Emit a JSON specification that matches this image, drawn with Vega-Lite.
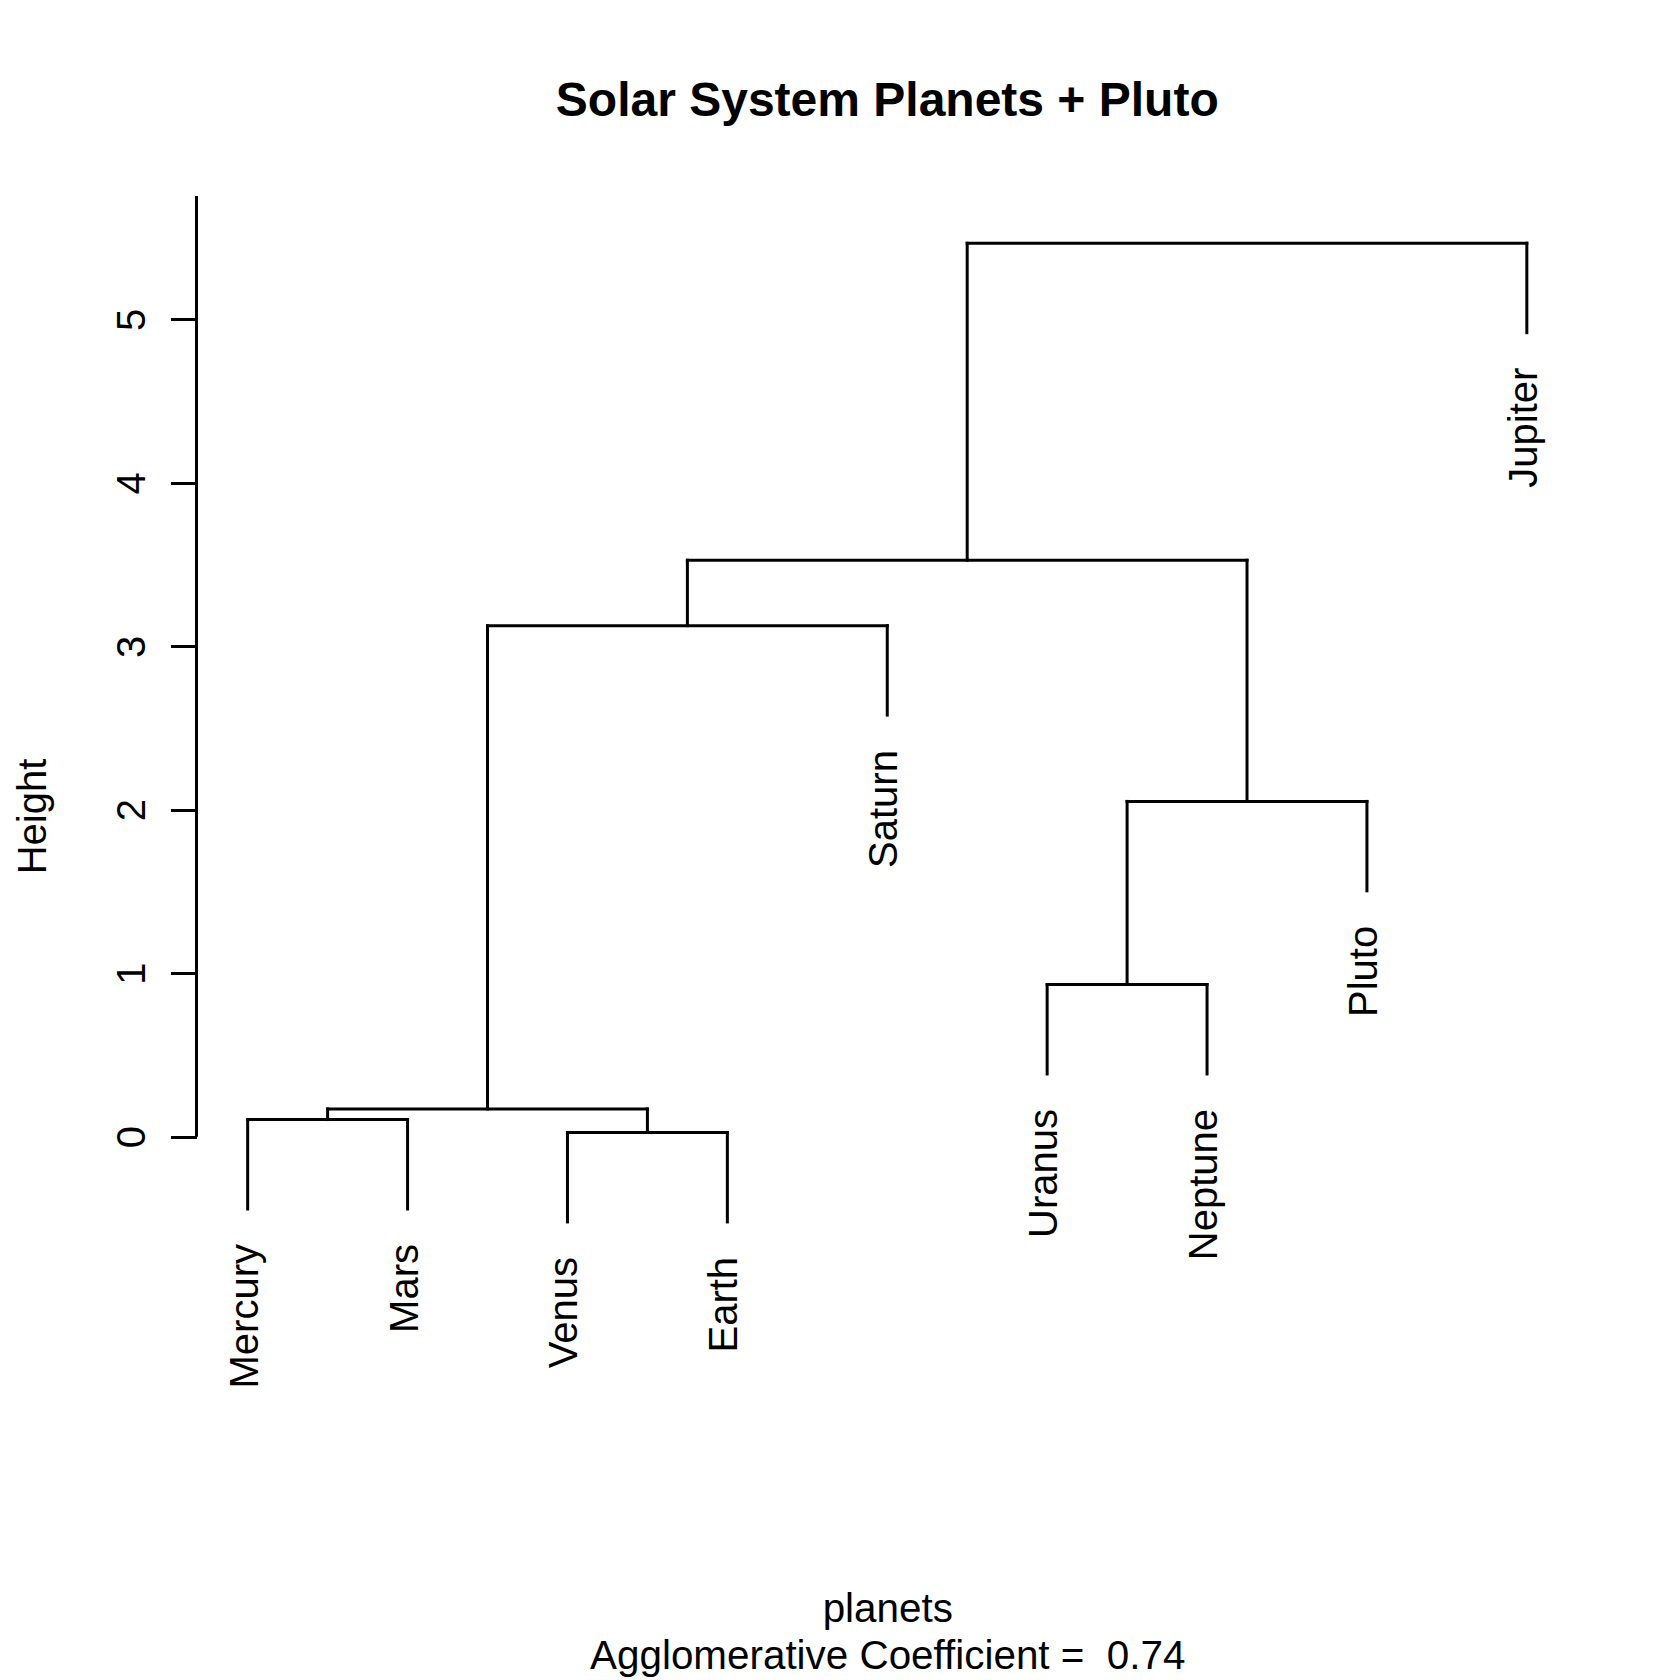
{
  "$schema": "https://vega.github.io/schema/vega-lite/v6.json",
  "width": 1381.5,
  "height": 1236,
  "autosize": {"type": "none"},
  "padding": {"left": 196.5, "top": 196, "right": 102, "bottom": 248},
  "background": "white",
  "config": {"view": {"stroke": null}, "font": "Liberation Sans"},
  "title": {
    "text": "Solar System Planets + Pluto",
    "fontSize": 48,
    "fontWeight": "bold",
    "font": "Liberation Sans",
    "anchor": "middle",
    "frame": "group",
    "baseline": "alphabetic",
    "offset": 30.5,
    "color": "black"
  },
  "datasets": {
    "segments": [
      {"x": 1, "x2": 2, "y": 0.105, "y2": 0.105},
      {"x": 1, "x2": 1, "y": 0.105, "y2": -0.442},
      {"x": 2, "x2": 2, "y": 0.105, "y2": -0.442},
      {"x": 3, "x2": 4, "y": 0.026, "y2": 0.026},
      {"x": 3, "x2": 3, "y": 0.026, "y2": -0.521},
      {"x": 4, "x2": 4, "y": 0.026, "y2": -0.521},
      {"x": 1.5, "x2": 3.5, "y": 0.17, "y2": 0.17},
      {"x": 1.5, "x2": 1.5, "y": 0.17, "y2": 0.105},
      {"x": 3.5, "x2": 3.5, "y": 0.17, "y2": 0.026},
      {"x": 2.5, "x2": 5, "y": 3.126, "y2": 3.126},
      {"x": 2.5, "x2": 2.5, "y": 3.126, "y2": 0.17},
      {"x": 5, "x2": 5, "y": 3.126, "y2": 2.579},
      {"x": 6, "x2": 7, "y": 0.931, "y2": 0.931},
      {"x": 6, "x2": 6, "y": 0.931, "y2": 0.384},
      {"x": 7, "x2": 7, "y": 0.931, "y2": 0.384},
      {"x": 6.5, "x2": 8, "y": 2.051, "y2": 2.051},
      {"x": 6.5, "x2": 6.5, "y": 2.051, "y2": 0.931},
      {"x": 8, "x2": 8, "y": 2.051, "y2": 1.504},
      {"x": 3.75, "x2": 7.25, "y": 3.526, "y2": 3.526},
      {"x": 3.75, "x2": 3.75, "y": 3.526, "y2": 3.126},
      {"x": 7.25, "x2": 7.25, "y": 3.526, "y2": 2.051},
      {"x": 5.5, "x2": 9, "y": 5.465, "y2": 5.465},
      {"x": 5.5, "x2": 5.5, "y": 5.465, "y2": 3.526},
      {"x": 9, "x2": 9, "y": 5.465, "y2": 4.918}
    ],
    "leaves": [
      {"planet": "Mercury", "pos": 1, "end": -0.442},
      {"planet": "Mars", "pos": 2, "end": -0.442},
      {"planet": "Venus", "pos": 3, "end": -0.521},
      {"planet": "Earth", "pos": 4, "end": -0.521},
      {"planet": "Saturn", "pos": 5, "end": 2.579},
      {"planet": "Uranus", "pos": 6, "end": 0.384},
      {"planet": "Neptune", "pos": 7, "end": 0.384},
      {"planet": "Pluto", "pos": 8, "end": 1.504},
      {"planet": "Jupiter", "pos": 9, "end": 4.918}
    ],
    "axisline": [{"x": 0.68, "y": 0, "y2": 5.754}]
  },
  "layer": [
    {
      "data": {"name": "segments"},
      "mark": {"type": "rule", "color": "black", "strokeWidth": 3, "strokeCap": "square"},
      "encoding": {
        "x": {
          "field": "x", "type": "quantitative",
          "scale": {"domain": [0.68, 9.32], "nice": false, "zero": false},
          "axis": {
            "domain": false, "ticks": false, "labels": false, "grid": false,
            "title": ["planets", "Agglomerative Coefficient = \u00a00.74"],
            "titleFont": "Liberation Sans", "titleFontSize": 40.4, "titleFontWeight": "normal",
            "titleColor": "black", "titleBaseline": "alphabetic", "titleAlign": "center",
            "titleLineHeight": 46.5, "titleY": 189.7, "titleX": 690.75, "titleAnchor": null
          }
        },
        "x2": {"field": "x2"},
        "y": {
          "field": "y", "type": "quantitative",
          "scale": {"domain": [-1.806, 5.754], "nice": false, "zero": false},
          "axis": {
            "values": [0, 1, 2, 3, 4, 5],
            "format": "d",
            "domain": false, "grid": false,
            "tickSize": 26, "tickWidth": 3, "tickColor": "black",
            "labelAngle": 270, "labelAlign": "center", "labelBaseline": "alphabetic",
            "labelPadding": 26, "labelFont": "Liberation Sans", "labelFontSize": 40,
            "labelColor": "black",
            "title": "Height", "titleFont": "Liberation Sans", "titleFontSize": 40,
            "titleFontWeight": "normal", "titleColor": "black", "titleAngle": 270,
            "titleBaseline": "alphabetic", "titleAlign": "center",
            "titleX": -151.5, "titleY": 620
          }
        },
        "y2": {"field": "y2"}
      }
    },
    {
      "data": {"name": "axisline"},
      "mark": {"type": "rule", "color": "black", "strokeWidth": 3},
      "encoding": {
        "x": {"field": "x", "type": "quantitative"},
        "y": {"field": "y", "type": "quantitative"},
        "y2": {"field": "y2"}
      }
    },
    {
      "data": {"name": "leaves"},
      "mark": {
        "type": "text", "angle": 270, "align": "right", "baseline": "alphabetic",
        "dx": -35, "dy": 10, "fontSize": 40, "font": "Liberation Sans", "color": "black"
      },
      "encoding": {
        "x": {"field": "pos", "type": "quantitative"},
        "y": {"field": "end", "type": "quantitative"},
        "text": {"field": "planet"}
      }
    }
  ]
}
